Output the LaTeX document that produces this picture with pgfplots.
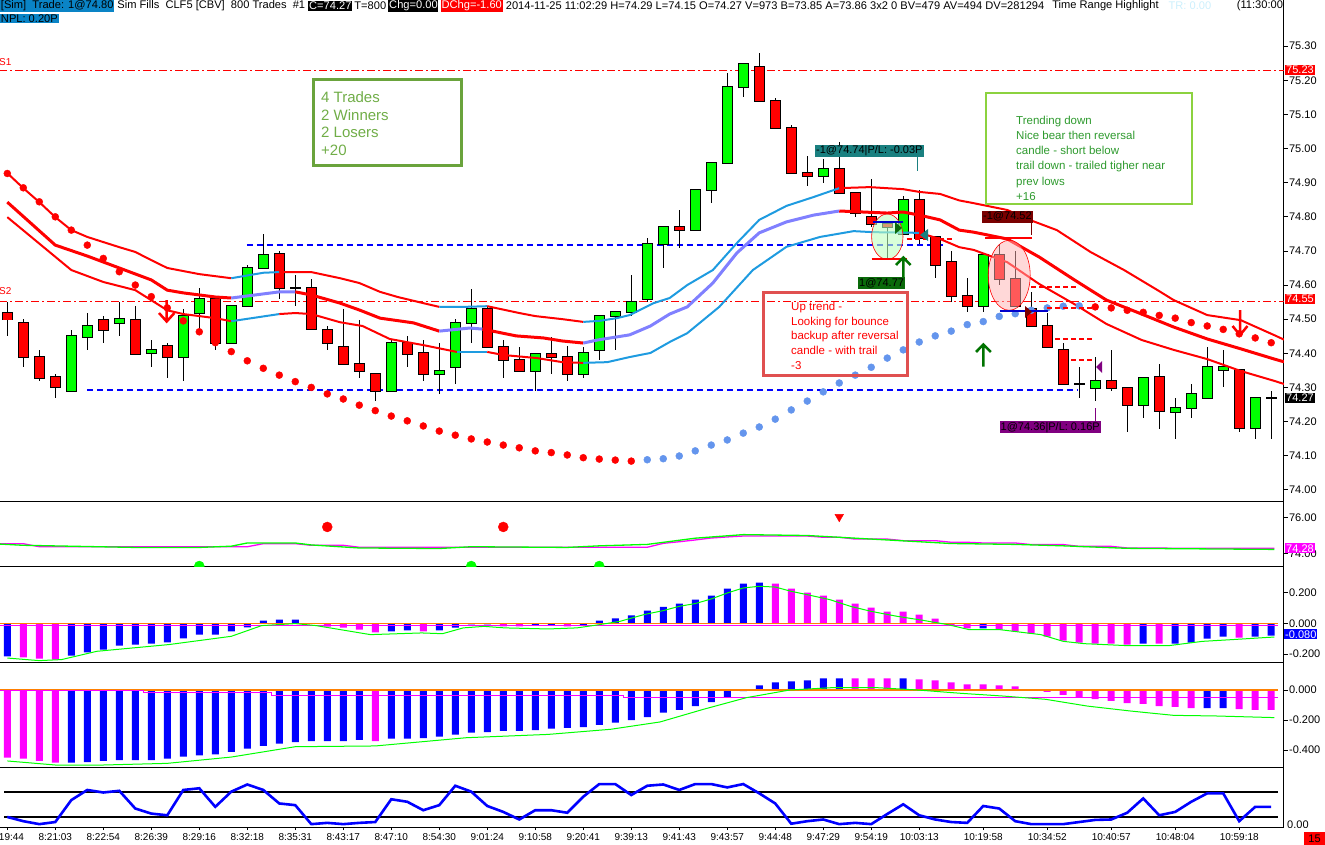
\documentclass[border=0pt]{standalone}
\usepackage{fontspec}
\setmainfont{Liberation Sans}
\usepackage{pgfplots}
\usepackage{pgfplotstable}
\pgfplotsset{compat=1.18}
\definecolor{cgreen}{HTML}{00FF00}
\definecolor{cred}{HTML}{FF0000}
\definecolor{bandblue}{HTML}{1E9BE0}
\definecolor{bandpurple}{HTML}{8080FF}
\definecolor{dotblue}{HTML}{6495ED}
\definecolor{hdrblue}{HTML}{0A84C6}
\definecolor{boxgreen}{HTML}{6AA33C}
\definecolor{txtgreen}{HTML}{70AD47}
\definecolor{boxlgreen}{HTML}{8CD23F}
\definecolor{txtdgreen}{HTML}{2E9A2E}
\definecolor{boxred}{HTML}{E05050}
\definecolor{tealc}{HTML}{1A8080}
\definecolor{dkgreen}{HTML}{0A6A0A}
\definecolor{dkred}{HTML}{7A0000}
\definecolor{purp}{HTML}{800080}
\definecolor{mag}{HTML}{FF00FF}
\definecolor{orng}{HTML}{FF8000}
\definecolor{pblue}{HTML}{0000FF}
\newcommand\lbl{\fontsize{11}{13}\selectfont}
\newcommand\hdr{\fontsize{11.1}{12}\selectfont}
\newcommand\tml{\fontsize{10}{12}\selectfont}
\pgfplotsset{
  panel/.style={
    scale only axis, width=1284pt,
    xmin=-0.45625, xmax=79.79375,
    axis x line*=bottom, axis y line*=right,
    xtick=\empty,
    tick align=outside, major tick length=4pt,
    axis line style={black, line width=1pt},
    every tick/.style={black, line width=0.8pt},
    /pgf/number format/assume math mode=true,
    yticklabel style={font=\lbl, anchor=west, inner sep=1pt,
      /pgf/number format/fixed, /pgf/number format/zerofill,
      /pgf/number format/precision=2,
      /pgf/number format/assume math mode=true},
    anchor=north west,
  }
}
\pgfplotstableread{
i O H L C
0 74.52 74.55 74.45 74.50
1 74.49 74.50 74.36 74.39
2 74.39 74.41 74.32 74.33
3 74.33 74.34 74.27 74.30
4 74.29 74.47 74.29 74.45
5 74.45 74.52 74.41 74.48
6 74.50 74.51 74.43 74.47
7 74.49 74.55 74.45 74.50
8 74.50 74.54 74.40 74.40
9 74.40 74.44 74.36 74.41
10 74.42 74.43 74.33 74.39
11 74.39 74.53 74.32 74.51
12 74.52 74.59 74.47 74.56
13 74.56 74.57 74.41 74.43
14 74.43 74.54 74.43 74.54
15 74.54 74.66 74.54 74.65
16 74.65 74.75 74.65 74.69
17 74.69 74.70 74.56 74.59
18 74.59 74.63 74.54 74.59
19 74.59 74.62 74.47 74.47
20 74.47 74.48 74.41 74.43
21 74.42 74.53 74.37 74.37
22 74.37 74.50 74.33 74.35
23 74.34 74.34 74.26 74.29
24 74.29 74.44 74.29 74.43
25 74.43 74.45 74.36 74.40
26 74.40 74.44 74.32 74.34
27 74.34 74.43 74.28 74.35
28 74.36 74.50 74.31 74.49
29 74.49 74.59 74.43 74.53
30 74.53 74.54 74.42 74.42
31 74.42 74.44 74.33 74.38
32 74.38 74.42 74.35 74.35
33 74.35 74.40 74.29 74.40
34 74.40 74.45 74.34 74.39
35 74.39 74.42 74.32 74.34
36 74.34 74.42 74.33 74.40
37 74.41 74.51 74.38 74.51
38 74.51 74.52 74.41 74.52
39 74.52 74.63 74.51 74.55
40 74.56 74.74 74.55 74.72
41 74.72 74.77 74.65 74.77
42 74.77 74.82 74.71 74.76
43 74.76 74.88 74.76 74.88
44 74.88 74.96 74.84 74.96
45 74.96 75.22 74.96 75.18
46 75.18 75.25 75.15 75.25
47 75.24 75.28 75.14 75.14
48 75.14 75.15 75.06 75.06
49 75.06 75.07 74.93 74.93
50 74.93 74.98 74.89 74.92
51 74.92 74.97 74.90 74.94
52 74.94 75.02 74.87 74.87
53 74.87 74.87 74.80 74.81
54 74.80 74.91 74.77 74.78
55 74.78 74.79 74.68 74.77
56 74.75 74.86 74.75 74.85
57 74.85 74.88 74.72 74.74
58 74.74 74.74 74.62 74.66
59 74.67 74.70 74.55 74.57
60 74.57 74.62 74.52 74.54
61 74.54 74.69 74.52 74.69
62 74.69 74.72 74.60 74.62
63 74.62 74.70 74.54 74.54
64 74.53 74.58 74.48 74.48
65 74.48 74.52 74.42 74.42
66 74.41 74.43 74.31 74.31
67 74.31 74.36 74.27 74.31
68 74.30 74.39 74.26 74.32
69 74.32 74.41 74.29 74.30
70 74.30 74.30 74.17 74.25
71 74.25 74.33 74.21 74.33
72 74.33 74.37 74.18 74.23
73 74.23 74.27 74.15 74.24
74 74.24 74.31 74.21 74.28
75 74.27 74.42 74.27 74.36
76 74.35 74.41 74.30 74.36
77 74.35 74.35 74.17 74.18
78 74.18 74.27 74.15 74.27
79 74.27 74.29 74.15 74.27
}\candles
\begin{document}
\begin{tikzpicture}
\useasboundingbox (0,0) rectangle (1325pt,-845pt);
% ================= MAIN PRICE PANEL =================
\begin{axis}[panel, height=501pt, at={(0pt,0pt)},
  ymin=73.9671, ymax=75.4354,
  ytick={74.0,74.1,74.2,74.3,74.4,74.5,74.6,74.7,74.8,74.9,75.0,75.1,75.2,75.3}]
\addplot[cred, line width=1pt, dash pattern=on 8pt off 3pt on 2pt off 3pt] coordinates {(-0.5,75.23)(79.8,75.23)};
\addplot[cred, line width=1pt, dash pattern=on 8pt off 3pt on 2pt off 3pt] coordinates {(-0.5,74.553)(79.8,74.553)};
\addplot[pblue, line width=2pt, dash pattern=on 6pt off 4pt] coordinates {(14.98,74.717)(58.6,74.717)};
\addplot[pblue, line width=2pt, dash pattern=on 6pt off 4pt] coordinates {(5,74.292)(66.9,74.292)};
\addplot[draw=none, mark=none, error bars/.cd, y dir=both, y explicit, error mark=none,
  error bar style={draw=black, line width=1pt}]
  table[x=i, y expr={(\thisrow{H}+\thisrow{L})/2}, y error expr={(\thisrow{H}-\thisrow{L})/2}] {\candles};
\addplot[draw=none, mark=none, error bars/.cd, y dir=both, y explicit, error mark=none,
  error bar style={draw=black, line width=11pt}]
  table[x=i, y expr={(\thisrow{O}+\thisrow{C})/2}, y error expr={abs(\thisrow{O}-\thisrow{C})/2+0.0029}] {\candles};
\addplot[draw=none, mark=none, error bars/.cd, y dir=both, y explicit, error mark=none,
  error bar style={draw=cgreen, line width=9pt}]
  table[x=i, y expr={(\thisrow{O}+\thisrow{C})/2}, y error expr={max(\thisrow{C}-\thisrow{O},0)/2}] {\candles};
\addplot[draw=none, mark=none, error bars/.cd, y dir=both, y explicit, error mark=none,
  error bar style={draw=cred, line width=9pt}]
  table[x=i, y expr={(\thisrow{O}+\thisrow{C})/2}, y error expr={max(\thisrow{O}-\thisrow{C},0)/2}] {\candles};
% ---- upper band ----
\addplot[cred, line width=2pt] coordinates {(0,74.928)(1,74.884)(2,74.843)(3,74.799)(4,74.761)(5,74.741)(7,74.711)(8,74.697)(9,74.673)(10,74.650)(12,74.632)(14,74.620)};
\addplot[bandblue, line width=2pt] coordinates {(14,74.620)(15,74.628)(16,74.636)(17,74.638)};
\addplot[cred, line width=2pt] coordinates {(17,74.638)(19,74.638)(20.8,74.620)(22,74.606)(23.3,74.580)(24.4,74.565)(26,74.547)(27,74.536)};
\addplot[bandblue, line width=2pt] coordinates {(27,74.536)(28.5,74.536)(30,74.538)};
\addplot[cred, line width=2pt] coordinates {(30,74.538)(32,74.518)(33,74.509)(34.7,74.500)(36,74.492)};
\addplot[bandblue, line width=2pt] coordinates {(36,74.492)(37,74.495)(38.1,74.503)(38.9,74.512)(40.4,74.547)(41.4,74.562)(42.5,74.600)(44.1,74.644)(45.6,74.723)(47,74.791)(48.7,74.832)(50.4,74.858)(52,74.884)};
\addplot[cred, line width=2pt] coordinates {(52,74.884)(53.9,74.887)(56,74.881)(57,74.873)(58.3,74.867)(59.5,74.848)(60.4,74.840)(62.5,74.820)(63.9,74.791)(65.6,74.761)(67.7,74.697)(69.8,74.644)(71.9,74.585)(72.9,74.556)(75,74.512)(77.1,74.497)(79.2,74.453)(79.8,74.44)};
% ---- middle band ----
\addplot[cred, line width=3pt] coordinates {(0,74.843)(3,74.717)(5,74.685)(7,74.650)(9,74.615)(10,74.585)(11,74.577)(13,74.565)(14,74.562)};
\addplot[bandpurple, line width=3pt] coordinates {(14,74.562)(17,74.580)(18,74.580)};
\addplot[cred, line width=3pt] coordinates {(18,74.580)(19,74.571)(20.8,74.547)(22,74.527)(23.3,74.503)(25.4,74.489)(27,74.465)};
\addplot[bandpurple, line width=3pt] coordinates {(27,74.465)(28.9,74.474)(29.7,74.471)};
\addplot[cred, line width=3pt] coordinates {(29.7,74.471)(31.8,74.451)(33.5,74.445)(34.7,74.436)(36,74.430)};
\addplot[bandpurple, line width=3pt] coordinates {(36,74.430)(36.9,74.439)(38.9,74.454)(40.2,74.480)(41.4,74.515)(42.5,74.536)(44.1,74.606)(45.6,74.694)(47,74.753)(48.7,74.785)(50.4,74.805)(52,74.817)};
\addplot[cred, line width=3pt] coordinates {(52,74.817)(55,74.811)(56,74.814)(57,74.805)(58.3,74.791)(59.5,74.761)(60.4,74.755)(62.5,74.735)(64.5,74.682)(66.7,74.615)(68.7,74.556)(70.9,74.515)(72.9,74.477)(75,74.442)(77.1,74.413)(79.2,74.383)(79.8,74.375)};
% ---- lower band ----
\addplot[cred, line width=2pt] coordinates {(0,74.799)(4,74.644)(6,74.609)(8,74.585)(10,74.526)(11,74.515)(13,74.503)(14,74.494)};
\addplot[bandblue, line width=2pt] coordinates {(14,74.494)(17,74.515)};
\addplot[cred, line width=2pt] coordinates {(17,74.515)(18,74.518)(19,74.515)(20.8,74.491)(22.2,74.480)(23.9,74.442)(26,74.424)(28.1,74.404)};
\addplot[bandblue, line width=2pt] coordinates {(28.1,74.404)(30,74.404)};
\addplot[cred, line width=2pt] coordinates {(30,74.404)(31,74.395)(33.1,74.386)(34.7,74.374)(36,74.372)};
\addplot[bandblue, line width=2pt] coordinates {(36,74.372)(37.5,74.374)(38.9,74.389)(40.2,74.401)(41.4,74.433)(42.5,74.459)(44.5,74.536)(46.6,74.644)(48.7,74.712)(50.8,74.741)(52.9,74.758)(54.1,74.755)(57,74.753)};
\addplot[cred, line width=2pt] coordinates {(57,74.753)(58.3,74.735)(59.5,74.711)(60.4,74.703)(62.5,74.667)(64.5,74.603)(66.7,74.544)(68.7,74.486)(70.9,74.439)(72.9,74.410)(75,74.383)(77.1,74.348)(79.2,74.319)(79.8,74.31)};
% ---- SAR dots ----
\addplot[only marks, mark=*, mark size=3.5pt, mark options={draw=cred, fill=cred}] coordinates {
(0,74.927)(1,74.885)(2,74.844)(3,74.800)(4,74.761)(5,74.717)(6,74.678)(7,74.639)(8,74.600)(9,74.566)
(10,74.533)(11,74.495)(12,74.463)(13,74.431)(14,74.405)(15,74.378)(16,74.356)(17,74.336)(18,74.317)(19,74.300)
(20,74.281)(21,74.266)(22,74.248)(23,74.232)(24,74.216)(25,74.202)(26,74.187)(27,74.172)(28,74.160)(29,74.149)
(30,74.140)(31,74.131)(32,74.123)(33,74.114)(34,74.109)(35,74.102)(36,74.094)(37,74.090)(38,74.087)(39,74.084)
(68,74.536)(69,74.533)(70,74.526)(71,74.520)(72,74.511)(73,74.503)(74,74.490)(75,74.480)(76,74.470)(77,74.457)(78,74.445)(79,74.431)};
\addplot[only marks, mark=*, mark size=3.5pt, mark options={draw=dotblue, fill=dotblue}] coordinates {
(40,74.088)(41,74.091)(42,74.099)(43,74.114)(44,74.131)(45,74.146)(46,74.166)(47,74.184)(48,74.207)(49,74.234)
(50,74.260)(51,74.287)(52,74.313)(53,74.336)(54,74.359)(55,74.386)(56,74.410)(57,74.433)(58,74.451)(59,74.465)
(60,74.484)(61,74.493)(62,74.508)(63,74.516)(64,74.526)(65,74.533)(66,74.538)(67,74.539)};
\end{axis}
% ================= PANEL 2 =================
\begin{axis}[panel, height=65pt, at={(0pt,-501pt)},
  ymin=73.287, ymax=76.938, ytick={74,76}, clip marker paths=true]
\addplot[mag, line width=1.3pt] coordinates {(-0.5,74.54)(1,74.54)(2,74.37)(15,74.37)(16,74.54)(18,74.54)(19,74.45)(21,74.45)(22,74.34)(40,74.34)(41,74.56)(42,74.65)(43,74.75)(44,74.86)(45,74.92)(46,74.97)(50,74.97)(51,74.90)(52,74.90)(53,74.80)(55,74.80)(56,74.71)(58,74.71)(59,74.62)(60,74.62)(61,74.58)(63,74.58)(64,74.49)(66,74.49)(67,74.39)(69,74.39)(70,74.30)(72,74.30)(73,74.28)(79.2,74.28)};
\addplot[cgreen, line width=1.3pt] coordinates {(-0.5,74.52)(1,74.45)(8,74.33)(12,74.33)(14,74.40)(15,74.58)(18,74.58)(19,74.47)(22,74.30)(27,74.27)(29,74.37)(35,74.33)(37,74.42)(40,74.50)(43,74.85)(46,75.05)(50,75.00)(53,74.85)(56,74.70)(59,74.55)(63,74.50)(66,74.42)(70,74.28)(79.2,74.22)};
\addplot[only marks, mark=*, mark size=5pt, mark options={draw=cred, fill=cred}] coordinates {(20,75.48)(31,75.48)};
\addplot[only marks, mark=triangle*, mark size=5pt, mark options={draw=cred, fill=cred, rotate=180}] coordinates {(52,76.05)};
\addplot[only marks, mark=*, mark size=5pt, mark options={draw=cgreen, fill=cgreen}] coordinates {(12,73.287)(29,73.287)(37,73.287)};
\end{axis}
% ================= PANEL 3 =================
\begin{axis}[panel, height=96.3pt, at={(0pt,-566pt)},
  ymin=-0.2549, ymax=0.3745, ytick={-0.2,0,0.2},
  yticklabel style={/pgf/number format/precision=3}]
\addplot[ybar, bar width=7pt, bar shift=0pt, fill=pblue, draw=none] coordinates {
(0,-0.216)(4,-0.211)(5,-0.190)(6,-0.172)(7,-0.146)(8,-0.139)(9,-0.133)(10,-0.124)(11,-0.098)(12,-0.074)(13,-0.074)(14,-0.052)(15,-0.026)(16,0.017)(17,0.024)(18,0.024)
(24,-0.052)(25,-0.046)(27,-0.046)(28,-0.028)(29,-0.007)(30,-0.007)(33,-0.015)(34,-0.015)(36,-0.015)(37,0.017)(38,0.033)(39,0.052)(40,0.083)(41,0.107)(42,0.129)(43,0.155)(44,0.181)(45,0.227)(46,0.259)(47,0.266)
(61,-0.033)(71,-0.133)(73,-0.133)(74,-0.126)(75,-0.100)(76,-0.087)(78,-0.087)(79,-0.080)};
\addplot[ybar, bar width=7pt, bar shift=0pt, fill=mag, draw=none] coordinates {
(1,-0.222)(2,-0.231)(3,-0.237)(19,-0.004)(20,-0.022)(21,-0.028)(22,-0.041)(23,-0.059)(26,-0.052)(31,-0.020)(32,-0.020)(35,-0.020)
(48,0.259)(49,0.227)(50,0.200)(51,0.181)(52,0.155)(53,0.129)(54,0.102)(55,0.076)(56,0.076)(57,0.057)(58,0.031)(59,-0.013)(60,-0.033)
(62,-0.041)(63,-0.054)(64,-0.068)(65,-0.087)(66,-0.113)(67,-0.126)(68,-0.133)(69,-0.133)(70,-0.139)(72,-0.133)(77,-0.094)};
\addplot[orng, line width=1.3pt] coordinates {(-0.5,0)(79.4,0)};
\addplot[mag, line width=1pt] coordinates {(-0.5,-0.015)(79.4,-0.015)};
\addplot[cgreen, line width=1pt] coordinates {(0,-0.227)(2,-0.244)(3.4,-0.237)(5.6,-0.183)(10.1,-0.139)(14,-0.085)(15.9,-0.015)(18,-0.002)(19.3,-0.015)(22.7,-0.074)(25.9,-0.063)(27.2,-0.068)(28.5,-0.030)(29.8,-0.020)(31.1,-0.030)(33.8,-0.037)(35.6,-0.030)(37,-0.009)(38.3,0.013)(39.8,0.057)(41,0.083)(42,0.111)(43,0.129)(44,0.159)(45,0.198)(46,0.231)(47,0.242)(48,0.237)(49,0.209)(50,0.187)(51.4,0.155)(52.7,0.111)(54,0.078)(55.6,0.046)(57.2,0.020)(58.8,-0.009)(60.1,-0.041)(62,-0.041)(64.6,-0.074)(66,-0.118)(67.3,-0.133)(70,-0.146)(72.6,-0.146)(74.7,-0.118)(76.5,-0.107)(78.8,-0.092)(79.2,-0.090)};
\end{axis}
% ================= PANEL 4 =================
\begin{axis}[panel, height=105pt, at={(0pt,-662.3pt)},
  ymin=-0.5153, ymax=0.1847, ytick={-0.4,-0.2,0},
  yticklabel style={/pgf/number format/precision=3}]
\addplot[ybar, bar width=7pt, bar shift=0pt, fill=pblue, draw=none] coordinates {
(4,-0.484)(5,-0.480)(6,-0.473)(7,-0.467)(8,-0.467)(9,-0.467)(10,-0.458)(11,-0.444)(12,-0.436)(13,-0.429)(14,-0.413)(15,-0.391)(16,-0.373)(17,-0.358)(18,-0.347)(19,-0.340)(20,-0.340)(21,-0.340)(22,-0.333)
(24,-0.324)(25,-0.324)(26,-0.320)(27,-0.311)(28,-0.298)(29,-0.284)(30,-0.280)(31,-0.273)(32,-0.273)(33,-0.267)(34,-0.258)(35,-0.253)(36,-0.247)(37,-0.233)(38,-0.218)(39,-0.200)(40,-0.180)(41,-0.151)(42,-0.133)(43,-0.107)(44,-0.080)(45,-0.047)(46,-0.007)(47,0.031)(48,0.051)(49,0.058)(50,0.064)(51,0.078)(52,0.078)
(56,0.078)(75,-0.120)(76,-0.120)};
\addplot[ybar, bar width=7pt, bar shift=0pt, fill=mag, draw=none] coordinates {
(0,-0.451)(1,-0.458)(2,-0.473)(3,-0.484)(23,-0.340)(53,0.078)(54,0.078)(55,0.078)
(57,0.071)(58,0.064)(59,0.051)(60,0.038)(61,0.038)(62,0.031)(63,0.024)(64,0.003)(65,-0.013)(66,-0.033)(67,-0.053)(68,-0.060)(69,-0.073)(70,-0.087)(71,-0.093)(72,-0.107)(73,-0.113)(74,-0.120)(77,-0.127)(78,-0.133)(79,-0.133)};
\addplot[orng, line width=1.3pt] coordinates {(-0.5,0)(79.4,0)};
\addplot[mag, line width=1pt] coordinates {(-0.5,0)(8.5,0)(8.5,-0.018)(16.5,-0.018)(16.5,-0.036)(38.5,-0.036)(38.5,-0.05)(79.4,-0.05)};
\addplot[cgreen, line width=1pt] coordinates {(0,-0.473)(3,-0.500)(6,-0.500)(10,-0.489)(14,-0.447)(18,-0.378)(23,-0.373)(28.7,-0.318)(33.8,-0.296)(37.7,-0.262)(40.8,-0.213)(43.5,-0.129)(46.2,-0.051)(48.9,0)(51.6,0.016)(54.3,0.016)(56.9,0)(59.6,-0.022)(62.2,-0.040)(64.9,-0.062)(67.5,-0.107)(70.2,-0.140)(72.9,-0.169)(75.5,-0.173)(79.2,-0.184)};
\end{axis}
% ================= PANEL 5 =================
\begin{axis}[panel, height=59.7pt, at={(0pt,-767.3pt)},
  ymin=-3.8, ymax=137.7, ytick=\empty,
  xtick={0,3,6,9,12,15,18,21,24,27,30,33,36,39,42,45,48,51,54,57,61,65,69,73,77},
  xticklabels={8:19:44,8:21:03,8:22:54,8:26:39,8:29:16,8:32:18,8:35:31,8:43:17,8:47:10,8:54:30,9:01:24,9:10:58,9:20:41,9:39:13,9:41:43,9:43:57,9:44:48,9:47:29,9:54:19,10:03:13,10:19:58,10:34:52,10:40:57,10:48:04,10:59:18},
  xticklabel style={font=\tml, inner sep=1pt, yshift=-2.5pt},
  major tick length=3pt]
\addplot[black, line width=2pt] coordinates {(-0.2,80)(79.4,80)};
\addplot[black, line width=2pt] coordinates {(-0.2,20)(79.4,20)};
\addplot[pblue, line width=2.6pt] coordinates {(0,20)(1,10)(2,3)(3,8)(4,60)(5,84)(6,78)(7,82)(8,40)(9,28)(10,24)(11,84)(12,88)(13,44)(14,80)(15,97)(16,84)(17,52)(18,48)(19,3)(20,6)(21,3)(22,6)(23,8)(24,62)(25,56)(26,36)(27,48)(28,94)(29,80)(30,46)(31,32)(32,14)(33,36)(34,36)(35,30)(36,68)(37,98)(38,98)(39,72)(40,94)(41,97)(42,84)(43,98)(44,98)(45,90)(46,98)(47,76)(48,52)(49,4)(50,10)(51,14)(52,3)(53,6)(54,3)(55,27)(56,50)(57,24)(58,14)(59,8)(60,6)(61,46)(62,40)(63,10)(64,3)(65,3)(66,3)(67,8)(68,13)(69,14)(70,30)(71,64)(72,24)(73,32)(74,56)(75,76)(76,76)(77,10)(78,44)(79,44)};
\end{axis}
% ================= ANNOTATIONS =================
\begin{scope}[x=1pt,y=-1pt]
% header
\node[anchor=west, fill=hdrblue, inner sep=0.8pt, font=\hdr] (h1) at (0,6) {[Sim]\ \ Trade: 1@74.80};
\node[anchor=west, fill=hdrblue, inner sep=0.8pt, font=\hdr] at (0,18.5) {NPL: 0.20P};
\node[anchor=west, inner sep=0.8pt, font=\hdr] (h2) at ([xshift=2pt]h1.east) {Sim Fills\ \ CLF5 [CBV]\ \ 800 Trades\ \ \#1};
\node[anchor=west, fill=black, text=white, inner sep=0.8pt, font=\hdr] (h3) at ([xshift=2pt]h2.east) {C=74.27};
\node[anchor=west, inner sep=0.8pt, font=\hdr] (h4) at ([xshift=1pt]h3.east) {T=800};
\node[anchor=west, fill=black, text=white, inner sep=0.8pt, font=\hdr] (h5) at ([xshift=1pt]h4.east) {Chg=0.00};
\node[anchor=west, fill=cred, text=white, inner sep=0.8pt, font=\hdr] (h6) at ([xshift=2pt]h5.east) {DChg=-1.60};
\node[anchor=west, inner sep=0.8pt, font=\hdr] (h7) at ([xshift=2pt]h6.east) {2014-11-25 11:02:29 H=74.29 L=74.15 O=74.27 V=973 B=73.85 A=73.86 3x2 0 BV=479 AV=494 DV=281294};
\node[anchor=west, inner sep=0.8pt, font=\hdr] (h8) at ([xshift=6pt]h7.east) {Time Range Highlight};
\node[anchor=west, inner sep=0.8pt, font=\hdr, text=cyan!20] at ([xshift=8pt]h8.east) {TR: 0.00};
\node[anchor=east, inner sep=0.8pt, font=\hdr] at (1284,6) {(11:30:00};
% S labels
\node[anchor=west, text=cred, font=\tml, inner sep=0] at (-1,62) {S1};
\node[anchor=west, text=cred, font=\tml, inner sep=0] at (-1,291) {S2};
% right labels
\node[anchor=west, fill=cred, text=white, font=\lbl, inner sep=1pt] at (1285,70) {75.23};
\node[anchor=west, fill=cred, text=white, font=\lbl, inner sep=1pt] at (1285,299) {74.55};
\node[anchor=west, fill=black, text=white, font=\lbl, inner sep=1pt] at (1285,398) {74.27};
\node[anchor=west, fill=mag, text=white, font=\lbl, inner sep=1pt] at (1285,548.3) {74.28};
\node[anchor=west, fill=pblue, text=white, font=\lbl, inner sep=1pt] at (1284,634.3) {-0.080};
\begin{scope}
\clip (1285,767) rectangle (1325,827);
\node[anchor=west, font=\lbl, inner sep=1pt] at (1286,825) {0.00};
\end{scope}
\node[fill=cred, text=black, font=\lbl, inner sep=1pt, minimum width=21pt, minimum height=13pt] at (1314.5,838.5) {15};
% green summary box
\draw[boxgreen, line width=3pt] (313,80) rectangle (461,166);
\node[anchor=base west, text=txtgreen, font=\fontsize{15}{18}\selectfont, inner sep=0] at (321,102.4) {4 Trades};
\node[anchor=base west, text=txtgreen, font=\fontsize{15}{18}\selectfont, inner sep=0] at (321,120.1) {2 Winners};
\node[anchor=base west, text=txtgreen, font=\fontsize{15}{18}\selectfont, inner sep=0] at (321,137.8) {2 Losers};
\node[anchor=base west, text=txtgreen, font=\fontsize{15}{18}\selectfont, inner sep=0] at (321,155.5) {+20};
% trending down box
\draw[boxlgreen, line width=2.5pt] (986,93) rectangle (1192,204);
\foreach \t [count=\k] in {Trending down,Nice bear then reversal,candle - short below,trail down - trailed tigher near,prev lows,+16}
  \node[anchor=base west, text=txtdgreen, font=\fontsize{11.5}{14}\selectfont, inner sep=0] at (1016,124.3+15.2*\k-15.2) {\t};
% up trend box
\draw[boxred, line width=3pt] (763,292) rectangle (907,375.5);
\foreach \t [count=\k] in {Up trend -,Looking for bounce,backup after reversal,candle - with trail,-3}
  \node[anchor=base west, text=cred, font=\fontsize{11.5}{14}\selectfont, inner sep=0] at (791,310.1+14.9*\k-14.9) {\t};
% ellipses
\draw[cred, line width=0.6pt, fill=green!25, fill opacity=0.6] (887.3,236.7) ellipse (15.7 and 22.7);
\draw[cred, line width=0.6pt, fill=red!30, fill opacity=0.5] (1009.2,275.3) ellipse (21 and 35);
% trade markers & lines
\draw[tealc, line width=1pt] (917.7,157) -- (917.7,171);
\node[anchor=west, fill=tealc, text=black, font=\lbl, inner sep=1pt, minimum height=12.3pt] at (815,151) {-1@74.74|P/L: -0.03P};
\draw[cred, line width=2pt] (871.7,259.3) -- (906.7,259.3);
\draw[pblue!80!black, line width=2pt] (873,221.7) -- (903,221.7);
\draw[cred, line width=2pt, dash pattern=on 5pt off 3pt] (906.7,239) -- (953,239);
\draw[green!45!black, line width=2.5pt] (903.3,277) -- (903.3,258) (896,265) -- (903.3,257.5) -- (910.6,265);
\node[anchor=west, fill=dkgreen, text=black, font=\lbl, inner sep=1pt, minimum height=12pt] at (858,283.3) {1@74.77};
\fill[dkgreen] (895,222) -- (895,234) -- (902,228) -- cycle;
\fill[tealc] (928,229) -- (928,241) -- (920,235) -- cycle;
\draw[dkred, line width=1pt] (1031.8,222.8) -- (1031.8,235);
\node[anchor=west, fill=dkred, text=black, font=\lbl, inner sep=1pt, minimum height=12pt] at (982,216.7) {-1@74.52};
\draw[cred, line width=2pt] (985,238) -- (1032,238);
\draw[pblue!80!black, line width=2pt] (999.5,311) -- (1047.6,311);
\fill[dkred] (1025,306) -- (1025,318) -- (1032,312) -- cycle;
\draw[cred, line width=2pt, dash pattern=on 5pt off 3pt] (1031,287) -- (1076,287);
\draw[cred, line width=2pt, dash pattern=on 5pt off 3pt] (1047,308) -- (1093,308);
\draw[cred, line width=2pt, dash pattern=on 5pt off 3pt] (1055,339.4) -- (1093,339.4);
\draw[cred, line width=2pt, dash pattern=on 5pt off 3pt] (1071,359.5) -- (1093,359.5);
\fill[purp] (1102,361) -- (1102,373) -- (1096,367) -- cycle;
\draw[purp, line width=1pt] (1095,408) -- (1095,421);
\node[anchor=west, fill=purp, text=black, font=\lbl, inner sep=1pt, minimum height=12pt] at (999.5,427.3) {1@74.36|P/L: 0.16P};
\draw[green!45!black, line width=2.5pt] (983.4,366.5) -- (983.4,345) (976,352) -- (983.4,344.5) -- (990.8,352);
\draw[cred, line width=2.5pt] (166.7,300) -- (166.7,321) (159,313) -- (166.7,321.5) -- (174.4,313);
\draw[cred, line width=2.5pt] (1240,310) -- (1240,334.5) (1232.5,326) -- (1240,335) -- (1247.5,326);
\end{scope}
\end{tikzpicture}
\end{document}
